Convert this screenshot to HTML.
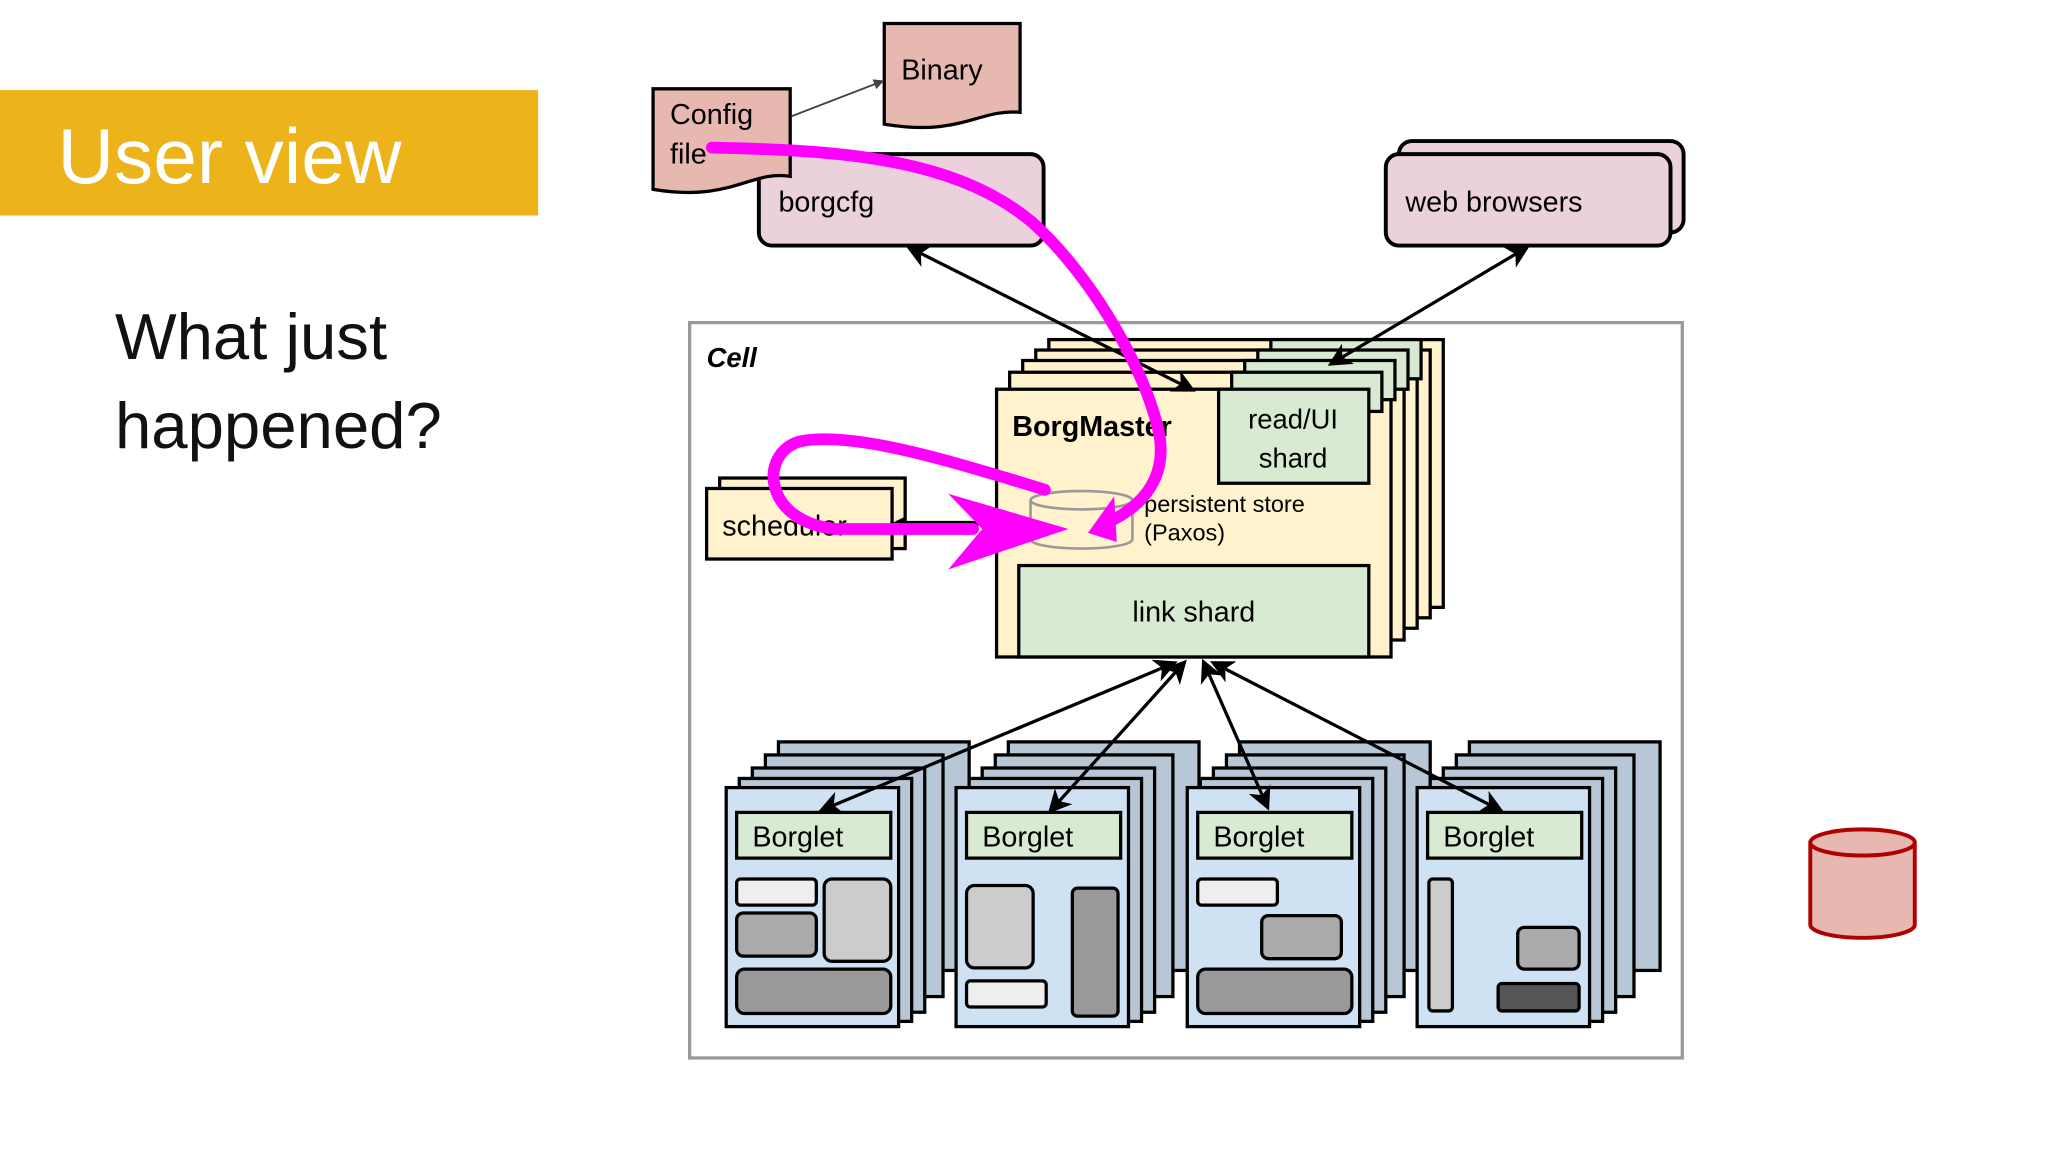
<!DOCTYPE html>
<html><head><meta charset="utf-8"><style>
html,body{margin:0;padding:0;background:#fff;}
svg{display:block;}
text{font-family:"Liberation Sans",Arial,sans-serif;}
</style></head><body>
<svg width="2048" height="1152" viewBox="0 0 1568 882" xmlns="http://www.w3.org/2000/svg">
<defs>
<marker id="ah" markerWidth="10" markerHeight="10" refX="8" refY="5" orient="auto-start-reverse" markerUnits="userSpaceOnUse"><path d="M0,0 L10,5 L0,10 L3,5 z" fill="#000"/></marker>
<marker id="ahs" markerWidth="8" markerHeight="8" refX="7" refY="4" orient="auto" markerUnits="userSpaceOnUse"><path d="M0,0 L8,4 L0,8 z" fill="#444"/></marker>
<marker id="ahb" markerWidth="18" markerHeight="18" refX="14" refY="9" orient="auto-start-reverse" markerUnits="userSpaceOnUse"><path d="M0,0 L18,9 L0,18 L5,9 z" fill="#000"/></marker>
</defs>
<rect width="1568" height="882" fill="#fff"/>
<rect x="0" y="69" width="412" height="96" fill="#ecb31a"/>
<text x="44" y="140" font-size="60" fill="#fff">User view</text>
<text x="88" y="275" font-size="50" fill="#111">What just</text>
<text x="88" y="343" font-size="50" fill="#111">happened?</text>

<rect x="528" y="247" width="760" height="563" fill="#fff" stroke="#999" stroke-width="2.5"/>
<text x="541" y="281" font-size="21" font-weight="bold" font-style="italic">Cell</text>

<rect x="581" y="118" width="218" height="70" rx="10" fill="#ead1dc" stroke="#000" stroke-width="3"/>
<text x="596" y="162" font-size="22">borgcfg</text>
<rect x="1071" y="108" width="218" height="70" rx="10" fill="#ead1dc" stroke="#000" stroke-width="3"/>
<rect x="1061" y="118" width="218" height="70" rx="10" fill="#ead1dc" stroke="#000" stroke-width="3"/>
<text x="1076" y="162" font-size="22">web browsers</text>

<path d="M500,68 H605 V135 C575,130 560,155 500,145 Z" fill="#e6b8af" stroke="#000" stroke-width="2.5"/>
<text x="513" y="95" font-size="22">Config</text>
<text x="513" y="125" font-size="22">file</text>
<path d="M677,18 H781 V86 C750,83 735,105 677,95 Z" fill="#e6b8af" stroke="#000" stroke-width="2.5"/>
<text x="690" y="61" font-size="22">Binary</text>
<line x1="606" y1="89" x2="676" y2="62" stroke="#444" stroke-width="1.5" marker-end="url(#ahs)"/>

<g stroke="#000" stroke-width="2.5">
<rect x="803" y="260" width="302" height="205" fill="#fff2cc"/>
<rect x="793" y="268" width="302" height="205" fill="#fff2cc"/>
<rect x="783" y="276" width="302" height="205" fill="#fff2cc"/>
<rect x="773" y="285" width="302" height="205" fill="#fff2cc"/>
<rect x="763" y="298" width="302" height="205" fill="#fff2cc"/>
<rect x="973" y="260" width="115" height="30" fill="#d9ead3"/>
<rect x="963" y="268" width="115" height="30" fill="#d9ead3"/>
<rect x="953" y="276" width="115" height="30" fill="#d9ead3"/>
<rect x="943" y="285" width="115" height="30" fill="#d9ead3"/>
<rect x="933" y="298" width="115" height="72" fill="#d9ead3"/>
<rect x="780" y="433" width="268" height="70" fill="#d9ead3"/>
</g>
<text x="775" y="334" font-size="22" font-weight="bold">BorgMaster</text>
<text x="990" y="328" font-size="21" text-anchor="middle">read/UI</text>
<text x="990" y="358" font-size="21" text-anchor="middle">shard</text>
<text x="914" y="476" font-size="22" text-anchor="middle">link shard</text>
<g fill="#fff2cc" stroke="#999" stroke-width="2">
<path d="M789,383 V413 A39,7 0 0 0 867,413 V383"/>
<ellipse cx="828" cy="383" rx="39" ry="7"/>
</g>
<text x="876" y="392" font-size="18">persistent store</text>
<text x="876" y="414" font-size="18">(Paxos)</text>

<rect x="551" y="366" width="142" height="54" fill="#fff2cc" stroke="#000" stroke-width="2.5"/>
<rect x="541" y="374" width="142" height="54" fill="#fff2cc" stroke="#000" stroke-width="2.5"/>
<text x="553" y="410" font-size="22">scheduler</text>
<line x1="686" y1="400" x2="752" y2="400" stroke="#000" stroke-width="2.5" marker-end="url(#ah)" marker-start="url(#ah)"/>

<line x1="697" y1="190" x2="912" y2="298" stroke="#000" stroke-width="2.5" marker-start="url(#ahb)" marker-end="url(#ahb)"/>
<line x1="1168" y1="190" x2="1020" y2="278" stroke="#000" stroke-width="2.5" marker-start="url(#ahb)" marker-end="url(#ahb)"/>

<g id="bl">
<g stroke="#000" stroke-width="2.5" fill="#cfe2f3">
<rect x="596" y="568" width="146" height="175" fill="#b7c7d6"/>
<rect x="586" y="578" width="136" height="185" fill="#b7c7d6"/>
<rect x="576" y="588" width="132" height="187" fill="#b7c7d6"/>
<rect x="566" y="596" width="132" height="186" fill="#b7c7d6"/>
<rect x="556" y="603" width="132" height="183"/>
</g>
<rect x="564" y="622" width="118" height="35" fill="#d9ead3" stroke="#000" stroke-width="2.5"/>
<text x="576" y="648" font-size="22">Borglet</text>
</g>
<use href="#bl" x="176"/>
<use href="#bl" x="353"/>
<use href="#bl" x="529"/>
<g stroke="#000" stroke-width="2.5">
<rect x="564" y="673" width="61" height="20" rx="3" fill="#eee"/>
<rect x="564" y="699" width="61" height="33" rx="5" fill="#aaa"/>
<rect x="631" y="673" width="51" height="63" rx="6" fill="#ccc"/>
<rect x="564" y="742" width="118" height="34" rx="6" fill="#999"/>
<rect x="740" y="678" width="51" height="63" rx="6" fill="#ccc"/>
<rect x="740" y="751" width="61" height="20" rx="3" fill="#eee"/>
<rect x="821" y="680" width="35" height="98" rx="4" fill="#999"/>
<rect x="917" y="673" width="61" height="20" rx="3" fill="#eee"/>
<rect x="966" y="701" width="61" height="33" rx="5" fill="#aaa"/>
<rect x="917" y="742" width="118" height="34" rx="6" fill="#999"/>
<rect x="1094" y="673" width="18" height="101" rx="3" fill="#ccc"/>
<rect x="1162" y="710" width="47" height="32" rx="5" fill="#aaa"/>
<rect x="1147" y="753" width="62" height="21" rx="3" fill="#555"/>
</g>
<g stroke="#000" stroke-width="2.5">
<line x1="898" y1="508" x2="630" y2="620" marker-start="url(#ahb)" marker-end="url(#ahb)"/>
<line x1="906" y1="508" x2="805" y2="620" marker-start="url(#ahb)" marker-end="url(#ahb)"/>
<line x1="922" y1="508" x2="970" y2="617" marker-start="url(#ahb)" marker-end="url(#ahb)"/>
<line x1="930" y1="508" x2="1148" y2="620" marker-start="url(#ahb)" marker-end="url(#ahb)"/>
</g>

<g fill="none" stroke="#f0f" stroke-width="9" stroke-linecap="round">
<path d="M545,113 C640,115 730,120 790,170 C840,215 880,290 888,335 C893,370 870,390 848,400"/>
<path d="M800,375 C720,350 650,330 612,338 C580,348 585,400 640,405 L745,405"/>
</g>
<path d="M833,408 L853,380 L855,415 Z" fill="#f0f"/>
<path d="M726,378 L818,405 L726,436 L752,405 Z" fill="#f0f"/>

<g fill="#e6b8af" stroke="#b00000" stroke-width="3">
<path d="M1386,645 V708 A40,10 0 0 0 1466,708 V645"/>
<ellipse cx="1426" cy="645" rx="40" ry="10"/>
</g>
</svg>
</body></html>
